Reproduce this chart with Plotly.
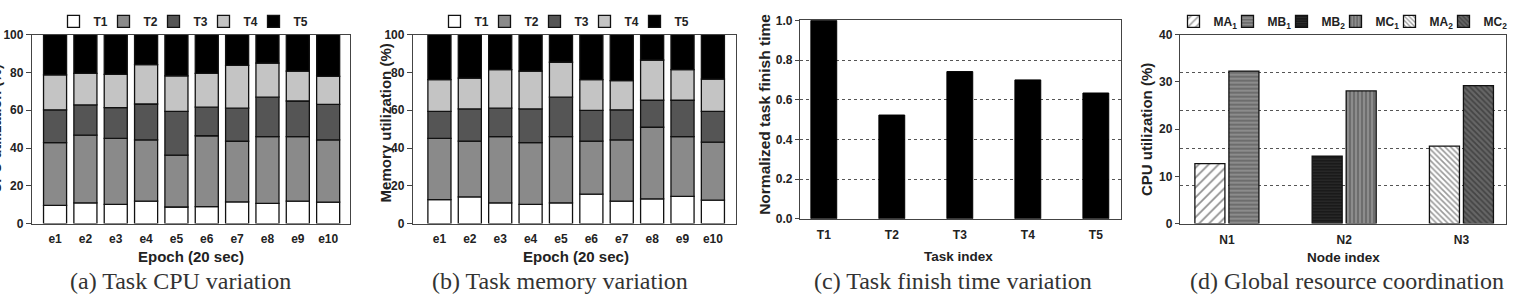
import plotly.graph_objects as go
import numpy as np

# ---------------- data ----------------
epochs = ["e1", "e2", "e3", "e4", "e5", "e6", "e7", "e8", "e9", "e10"]
tasks = ["T1", "T2", "T3", "T4", "T5"]

cpu_T1 = [9.7, 11.0, 10.2, 11.9, 8.8, 9.0, 11.5, 10.7, 11.9, 11.4]
cpu_T2 = [33.2, 35.8, 34.9, 32.4, 27.5, 37.5, 32.1, 35.3, 34.1, 32.9]
cpu_T3 = [17.3, 16.0, 16.3, 19.0, 23.1, 15.1, 17.5, 20.9, 18.9, 18.8]
cpu_T4 = [18.5, 16.7, 17.6, 20.8, 18.8, 17.9, 22.6, 18.0, 15.8, 14.8]
cpu_T5 = [21.3, 20.5, 21.0, 15.9, 21.8, 20.5, 16.3, 15.1, 19.3, 22.1]

mem_T1 = [12.7, 14.1, 11.0, 10.2, 11.0, 15.6, 11.9, 13.1, 14.4, 12.4]
mem_T2 = [32.4, 29.6, 35.0, 32.7, 35.0, 28.1, 32.4, 37.9, 31.6, 30.7]
mem_T3 = [14.3, 17.0, 15.1, 17.8, 20.9, 16.2, 15.9, 14.3, 19.3, 16.3]
mem_T4 = [16.8, 16.3, 20.4, 20.0, 18.5, 16.3, 15.5, 21.3, 16.2, 17.1]
mem_T5 = [23.8, 23.0, 18.5, 19.3, 14.6, 23.8, 24.3, 13.4, 18.5, 23.5]

finish_tasks = ["T1", "T2", "T3", "T4", "T5"]
finish_time = [1.0, 0.523, 0.742, 0.70, 0.634]

nodes = ["N1", "N2", "N3"]
vm_names = ["MA<sub>1</sub>", "MB<sub>1</sub>", "MB<sub>2</sub>",
            "MC<sub>1</sub>", "MA<sub>2</sub>", "MC<sub>2</sub>"]
vm_node = ["N1", "N1", "N2", "N2", "N3", "N3"]
vm_cpu = [12.7, 32.3, 14.3, 28.1, 16.4, 29.2]

# ---------------- helpers ----------------
W, H = 1516, 306
def px(x):
    return x / W
def py(y):
    return 1 - y / H

FONT = "Liberation Sans"
SERIF = "Liberation Serif"
task_colors = ["#ffffff", "#8a8a8a", "#555555", "#c4c4c4", "#000000"]

fig = go.Figure()

# (a) and (b) stacked bars (stacking through base = cumulative sum)
for series, xa, ya, leg in [
    ([cpu_T1, cpu_T2, cpu_T3, cpu_T4, cpu_T5], "x", "y", "legend"),
    ([mem_T1, mem_T2, mem_T3, mem_T4, mem_T5], "x2", "y2", "legend2"),
]:
    base = np.zeros(len(epochs))
    for i, (name, vals, col) in enumerate(zip(tasks, series, task_colors)):
        v = np.array(vals)
        fig.add_trace(go.Bar(
            x=epochs, y=v, base=base, name=name, xaxis=xa, yaxis=ya,
            width=0.76, legend=leg,
            legendwidth=5 if i < len(tasks) - 1 else 18,
            marker=dict(color=col, line=dict(color="#111111", width=1.3)),
        ))
        base = base + v

# (c) finish time
fig.add_trace(go.Bar(
    x=finish_tasks, y=finish_time, xaxis="x3", yaxis="y3", width=0.38,
    showlegend=False,
    marker=dict(color="black", line=dict(color="black", width=1)),
))

# (d) VM CPU per node
vm_patterns = [
    dict(shape="/", bgcolor="#ffffff", fgcolor="#222222", size=7, solidity=0.25),
    dict(shape="-", bgcolor="#8c8c8c", fgcolor="#333333", size=4, solidity=0.35),
    dict(shape="-", bgcolor="#1a1a1a", fgcolor="#444444", size=3, solidity=0.3),
    dict(shape="|", bgcolor="#8c8c8c", fgcolor="#333333", size=4, solidity=0.35),
    dict(shape="\\", bgcolor="#ffffff", fgcolor="#333333", size=4, solidity=0.4),
    dict(shape="\\", bgcolor="#666666", fgcolor="#222222", size=4, solidity=0.45),
]
vm_offset = [-0.273, 0.017, -0.273, 0.017, -0.273, 0.017]
for i, (name, node, val, pat, off) in enumerate(zip(vm_names, vm_node, vm_cpu, vm_patterns, vm_offset)):
    fig.add_trace(go.Bar(
        x=[node], y=[val], name=name, xaxis="x4", yaxis="y4",
        width=0.256, offset=off, legend="legend3",
        legendwidth=9 if i < len(vm_names) - 1 else 26,
        marker=dict(color=pat["bgcolor"], pattern=pat,
                    line=dict(color="#111111", width=1.3)),
    ))

# ---------------- axes ----------------
axis_common = dict(showline=True, mirror=True, linecolor="#444444", linewidth=1.3,
                   tickfont=dict(size=12, family=FONT, weight="bold", color="#222"),
                   zeroline=False)

fig.update_layout(
    width=W, height=H, margin=dict(l=0, r=0, t=0, b=0),
    paper_bgcolor="white", plot_bgcolor="white",
    barmode="overlay",
    font=dict(family=FONT, size=11, color="#222", weight="bold"),
    xaxis=dict(domain=[px(32), px(350)], anchor="y", range=[-0.76, 9.72],
               showgrid=False, ticks="outside", ticklen=4, tickcolor="rgba(0,0,0,0)", **axis_common),
    yaxis=dict(domain=[py(227), py(29)], anchor="x", range=[0, 100], dtick=20,
               ticks="outside", ticklen=5, showgrid=False, **axis_common),
    xaxis2=dict(domain=[px(413), px(736)], anchor="y2", range=[-0.87, 9.76],
                showgrid=False, ticks="outside", ticklen=4, tickcolor="rgba(0,0,0,0)", **axis_common),
    yaxis2=dict(domain=[py(227), py(29)], anchor="x2", range=[0, 100], dtick=20,
                ticks="outside", ticklen=5, showgrid=False, **axis_common),
    xaxis3=dict(domain=[px(800), px(1121)], anchor="y3", range=[-0.35, 4.37],
                showgrid=False, ticks="outside", ticklen=5, tickcolor="rgba(0,0,0,0)", **axis_common),
    yaxis3=dict(domain=[py(222), py(14)], anchor="x3", range=[0, 1.0], dtick=0.2,
                tickformat=".1f", ticks="outside", ticklen=4,
                showgrid=True, gridcolor="#555555", griddash="dot", gridwidth=1,
                **axis_common),
    xaxis4=dict(domain=[px(1180), px(1506)], anchor="y4", range=[-0.4, 2.38],
                categoryorder="array", categoryarray=nodes,
                showgrid=False, ticks="outside", ticklen=5, tickcolor="rgba(0,0,0,0)", **axis_common),
    yaxis4=dict(domain=[py(227), py(29)], anchor="x4", range=[0, 40], dtick=10,
                ticks="outside", ticklen=4, showgrid=False,
                minor=dict(tickvals=[8, 16, 24, 32], showgrid=True, gridcolor="#555555",
                           griddash="dot", gridwidth=1, ticklen=0),
                **axis_common),
)

leg_common = dict(orientation="h", yanchor="middle", xanchor="center",
                  font=dict(size=12, family=FONT, weight="bold", color="#222"),
                  bgcolor="rgba(0,0,0,0)", itemwidth=30, tracegroupgap=0,
                  itemclick=False, itemdoubleclick=False)
fig.update_layout(
    legend=dict(x=px(185), y=py(15), **leg_common),
    legend2=dict(x=px(566), y=py(15), **leg_common),
    legend3=dict(x=px(1344), y=py(15), **leg_common),
)

# ---------------- titles / captions ----------------
def ann(text, x, y, size, angle=0, family=FONT, bold=True):
    fig.add_annotation(text=text, x=px(x), y=py(y), xref="paper", yref="paper",
                       showarrow=False, textangle=angle, xanchor="center", yanchor="middle",
                       font=dict(size=size, family=family, color="#222" if bold else "#333",
                                 weight="bold" if bold else "normal"))

ann("CPU utilization (%)", -4, 128, 14.5, angle=-90)
ann("Memory utilization (%)", 385, 122, 15, angle=-90)
ann("Normalized task finish time", 765, 113, 15.5, angle=-90)
ann("CPU utilization (%)", 1146, 129, 15, angle=-90)

ann("Epoch (20 sec)", 191, 261, 15)
ann("Epoch (20 sec)", 576, 261, 15)
ann("Task index", 959, 261, 13.5)
ann("Node index", 1343, 262, 13.5)

ann("(a) Task CPU variation", 180, 287, 24, family=SERIF, bold=False)
ann("(b) Task memory variation", 560, 287, 24, family=SERIF, bold=False)
ann("(c) Task finish time variation", 953, 287, 24, family=SERIF, bold=False)
ann("(d) Global resource coordination", 1347, 287, 24, family=SERIF, bold=False)

fig.write_html("out.html")
